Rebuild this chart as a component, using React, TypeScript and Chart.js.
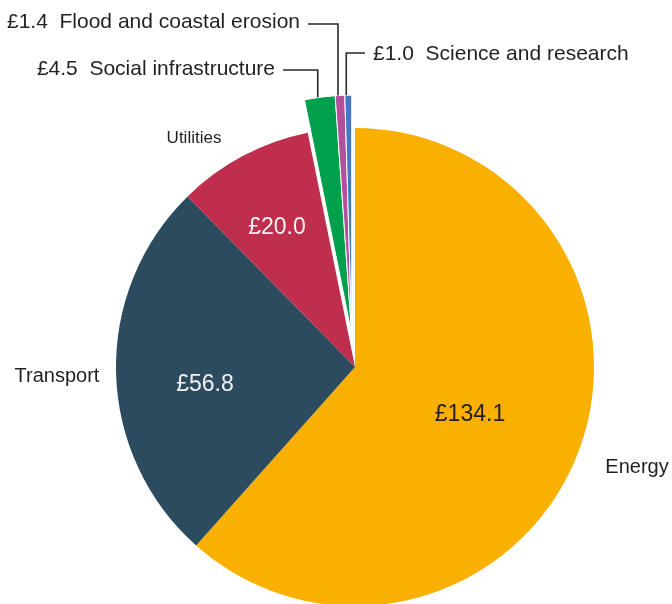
import { useEffect, useRef } from 'react';
import Chart from 'chart.js/auto';

// £bn by sector
const categories = ['Energy', 'Transport', 'Utilities', 'Social infrastructure', 'Flood and coastal erosion', 'Science and research'];
const values = [134.1, 56.8, 20.0, 4.5, 1.4, 1.0];
const valueLabels = ['£134.1', '£56.8', '£20.0', '£4.5', '£1.4', '£1.0'];
const colors = ['#F9B000', '#2C4B5E', '#BF2F4D', '#00A04C', '#B2509C', '#4479C1'];

const FONT = '"Liberation Sans", Arial, sans-serif';
const TEXT = '#231F20';
const explodeFrom = 3; // small slices pulled out together
const explodeDistance = 33;

const explodePlugin = {
  id: 'explodeGroup',
  afterUpdate(chart: any) {
    const arcs = chart.getDatasetMeta(0).data as any[];
    const group = arcs.slice(explodeFrom);
    if (!group.length) return;
    const mid = (group[0].startAngle + group[group.length - 1].endAngle) / 2;
    group.forEach((a) => {
      a.x += Math.cos(mid) * explodeDistance;
      a.y += Math.sin(mid) * explodeDistance;
    });
  },
};

const labelPlugin = {
  id: 'sliceLabels',
  afterDatasetsDraw(chart: any) {
    const ctx: CanvasRenderingContext2D = chart.ctx;
    const arcs = chart.getDatasetMeta(0).data as any[];
    ctx.save();
    ctx.textBaseline = 'middle';

    // values inside big slices
    ctx.font = `23px ${FONT}`;
    ctx.textAlign = 'center';
    ctx.fillStyle = TEXT;
    ctx.fillText(valueLabels[0], 470, 415);
    ctx.fillStyle = '#F2F2F2';
    ctx.fillText(valueLabels[1], 205, 385);
    ctx.fillText(valueLabels[2], 277, 228);

    // category names outside
    ctx.fillStyle = TEXT;
    ctx.font = `20px ${FONT}`;
    ctx.fillText(categories[0], 637, 467);
    ctx.fillText(categories[1], 57, 376);
    ctx.font = `17px ${FONT}`;
    ctx.fillText(categories[2], 194, 138);

    // small slices with leader lines
    ctx.font = `21px ${FONT}`;
    const callouts = [
      { i: 4, x: 300, y: 22, lineY: 24, align: 'right' as CanvasTextAlign },
      { i: 3, x: 275, y: 69, lineY: 70, align: 'right' as CanvasTextAlign },
      { i: 5, x: 373, y: 54, lineY: 53, align: 'left' as CanvasTextAlign },
    ];
    ctx.strokeStyle = '#2A2A2A';
    ctx.lineWidth = 1.6;
    callouts.forEach((c) => {
      const a = arcs[c.i];
      const mid = (a.startAngle + a.endAngle) / 2;
      const px = a.x + Math.cos(mid) * a.outerRadius - 2;
      const py = a.y + Math.sin(mid) * a.outerRadius;
      const startX = c.align === 'right' ? c.x + 8 : c.x - 8;
      ctx.beginPath();
      ctx.moveTo(startX, c.lineY);
      ctx.lineTo(px, c.lineY);
      ctx.lineTo(px, py);
      ctx.stroke();
      ctx.textAlign = c.align;
      ctx.fillText(`${valueLabels[c.i]}  ${categories[c.i]}`, c.x, c.y);
    });
    ctx.restore();
  },
};

const PieChart = () => {
  const chartRef = useRef<HTMLCanvasElement>(null);
  const chartInstance = useRef<Chart | null>(null);

  useEffect(() => {
    if (!chartRef.current) return;
    if (chartInstance.current) chartInstance.current.destroy();

    chartInstance.current = new Chart(chartRef.current, {
      type: 'pie',
      data: {
        labels: categories,
        datasets: [{
          data: values,
          backgroundColor: colors,
          borderColor: '#fff',
          borderWidth: [0, 0, 0, 1, 1, 1],
        }],
      },
      options: {
        responsive: true,
        maintainAspectRatio: false,
        animation: false,
        radius: 239,
        layout: { padding: { left: 38, right: 0, top: 130, bottom: 0 } },
        plugins: {
          legend: { display: false },
          tooltip: { enabled: false },
        },
      } as any,
      plugins: [explodePlugin, labelPlugin],
    });

    return () => {
      if (chartInstance.current) {
        chartInstance.current.destroy();
        chartInstance.current = null;
      }
    };
  }, []);

  return (
    <div style={{ position: 'fixed', left: 0, top: 0, width: 672, height: 604, background: '#fff' }}>
      <canvas ref={chartRef} />
    </div>
  );
};

export default function App() {
  return <PieChart />;
}
